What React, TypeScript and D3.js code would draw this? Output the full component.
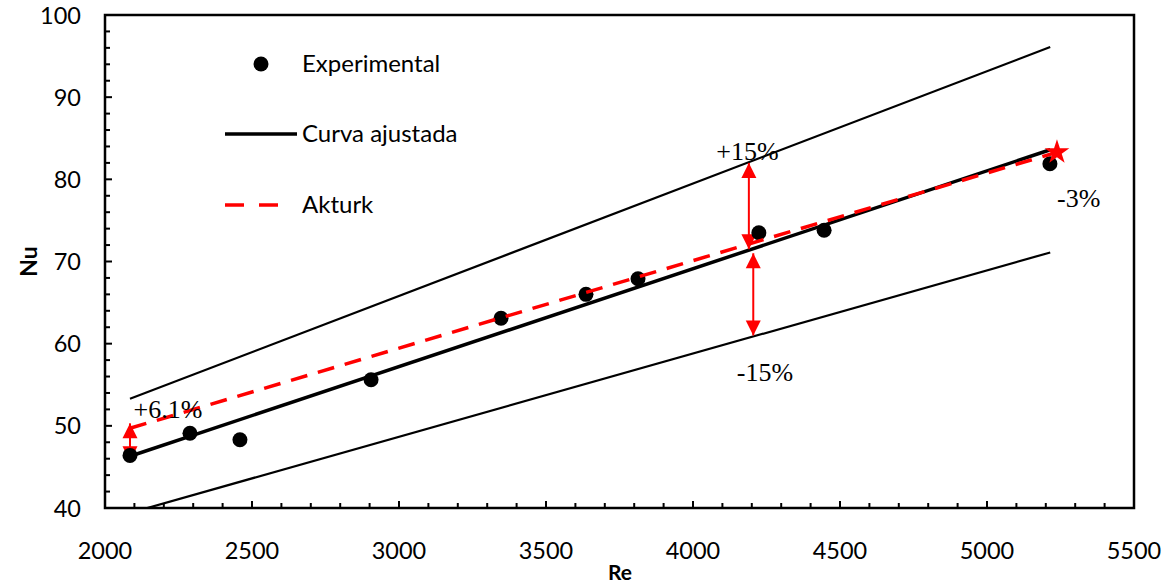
import React from "react";
import * as d3 from "d3";

const expRe = [2085, 2289, 2459, 2905, 3347, 3636, 3813, 4224, 4446, 5214];
const expNu = [46.4, 49.1, 48.3, 55.6, 63.1, 66.0, 67.9, 73.5, 73.8, 81.9];

const fitRe = [2085, 5215];
const fitNu = [46.3, 83.6];
const upperNu = [53.3, 96.1];
const lowerNu = [39.4, 71.1];

const akturkRe = [2085, 5238];
const akturkNu = [49.7, 83.3];

const xTicks = [2000, 2500, 3000, 3500, 4000, 4500, 5000, 5500];
const yTicks = [40, 50, 60, 70, 80, 90, 100];

const legendLabels = ["Experimental", "Curva ajustada", "Akturk"];

// arrows: [Re, Nu from, Nu to]
const arrows = [
  [2085, 45.7, 50.3],
  [4190, 71.5, 82.0],
  [4205, 71.0, 61.0],
];

const annotations = [
  { text: "+6.1%", re: 2214, nu: 50.9 },
  { text: "+15%", re: 4185, nu: 82.4 },
  { text: "-15%", re: 4245, nu: 55.4 },
  { text: "-3%", re: 5312, nu: 76.6 },
];

const W = 1169;
const H = 583;
const M = { left: 105, right: 1134, top: 15, bottom: 508 };

export default function App() {
  const x = d3.scaleLinear().domain([2000, 5500]).range([M.left, M.right]);
  const y = d3.scaleLinear().domain([40, 100]).range([M.bottom, M.top]);
  const line = d3
    .line<[number, number]>()
    .x((d) => x(d[0]))
    .y((d) => y(d[1]));

  const xMinor = d3.range(2000, 5501, 100);
  const yMinor = d3.range(40, 100.1, 2);
  const sans = "Lato, 'Open Sans', sans-serif";
  const serif = "'Liberation Serif', 'DejaVu Serif', serif";

  const star = d3.symbol().type(d3.symbolStar).size(190)();

  const arrowHead = (px: number, py: number, dir: number) => {
    const hl = 15;
    const hw = 7.5;
    return `M${px},${py} L${px - hw},${py - dir * hl} L${px + hw},${py - dir * hl} Z`;
  };

  const pairs = (xs: number[], ys: number[]) =>
    xs.map((r, i) => [r, ys[i]] as [number, number]);

  return (
    <svg
      width={W}
      height={H}
      style={{ position: "absolute", left: 0, top: 0, background: "#fff" }}
    >
      <defs>
        <clipPath id="plotclip">
          <rect x={M.left} y={M.top} width={M.right - M.left} height={M.bottom - M.top} />
        </clipPath>
      </defs>
      <rect x={0} y={0} width={W} height={H} fill="#fff" />

      {/* minor ticks */}
      {xMinor.map((v) => (
        <line
          key={"xm" + v}
          x1={x(v)}
          x2={x(v)}
          y1={M.bottom}
          y2={M.bottom - (v % 500 === 0 ? 7 : 5)}
          stroke="#000"
          strokeWidth={2}
        />
      ))}
      {yMinor.map((v) => (
        <line
          key={"ym" + v}
          x1={M.left}
          x2={M.left + (Math.round(v) % 10 === 0 ? 7 : 5)}
          y1={y(v)}
          y2={y(v)}
          stroke="#000"
          strokeWidth={2}
        />
      ))}

      {/* frame */}
      <rect
        x={M.left}
        y={M.top}
        width={M.right - M.left}
        height={M.bottom - M.top}
        fill="none"
        stroke="#000"
        strokeWidth={2.5}
      />

      {/* tick labels */}
      {xTicks.map((v) => (
        <text
          key={"xt" + v}
          x={x(v)}
          y={559}
          textAnchor="middle"
          fontFamily={sans}
          fontSize={23.5}
          fill="#000"
        >
          {v}
        </text>
      ))}
      {yTicks.map((v) => (
        <text
          key={"yt" + v}
          x={81}
          y={y(v) + 8.5}
          textAnchor="end"
          fontFamily={sans}
          fontSize={23.5}
          fill="#000"
        >
          {v}
        </text>
      ))}

      {/* axis titles */}
      <text x={620} y={580} textAnchor="middle" fontFamily={sans} fontWeight="bold" fontSize={21}>
        Re
      </text>
      <text
        transform={`translate(37,${y(70)}) rotate(-90)`}
        textAnchor="middle"
        fontFamily={sans}
        fontWeight="bold"
        fontSize={23}
      >
        Nu
      </text>

      <g clipPath="url(#plotclip)">
        <path d={line(pairs(fitRe, upperNu)) || ""} fill="none" stroke="#000" strokeWidth={2.2} />
        <path d={line(pairs(fitRe, lowerNu)) || ""} fill="none" stroke="#000" strokeWidth={2.2} />
        <path d={line(pairs(fitRe, fitNu)) || ""} fill="none" stroke="#000" strokeWidth={3.5} />

        {/* arrows */}
        {arrows.map(([r, n1, n2], i) => {
          const px = x(r);
          const y1 = y(n1);
          const y2 = y(n2);
          const dir = y2 > y1 ? 1 : -1;
          return (
            <g key={"a" + i}>
              <line x1={px} x2={px} y1={y1} y2={y2} stroke="#ff0000" strokeWidth={2} />
              <path d={arrowHead(px, y2, dir)} fill="#ff0000" />
              <path d={arrowHead(px, y1, -dir)} fill="#ff0000" />
            </g>
          );
        })}

        {/* experimental points */}
        {expRe.map((r, i) => (
          <circle key={"p" + i} cx={x(r)} cy={y(expNu[i])} r={7.5} fill="#000" />
        ))}

        {/* akturk */}
        <path
          d={line(pairs(akturkRe, akturkNu)) || ""}
          fill="none"
          stroke="#ff0000"
          strokeWidth={3.5}
          strokeDasharray="17,11"
        />
        <path
          d={star || ""}
          transform={`translate(${x(akturkRe[1])},${y(akturkNu[1])})`}
          fill="#ff0000"
        />
      </g>

      {/* annotations */}
      {annotations.map((a) => (
        <text
          key={a.text}
          x={x(a.re)}
          y={y(a.nu)}
          textAnchor="middle"
          fontFamily={serif}
          fontSize={26}
          fill="#000"
        >
          {a.text}
        </text>
      ))}

      {/* legend */}
      <circle cx={261} cy={64} r={7.5} fill="#000" />
      <line x1={225} x2={297} y1={134} y2={134} stroke="#000" strokeWidth={3.5} />
      <line
        x1={225}
        x2={278}
        y1={205}
        y2={205}
        stroke="#ff0000"
        strokeWidth={3.5}
        strokeDasharray="19,15"
      />
      {legendLabels.map((t, i) => (
        <text
          key={t}
          x={302}
          y={[64, 134, 205][i] + 8}
          fontFamily={sans}
          fontSize={24}
          fill="#000"
        >
          {t}
        </text>
      ))}
    </svg>
  );
}
